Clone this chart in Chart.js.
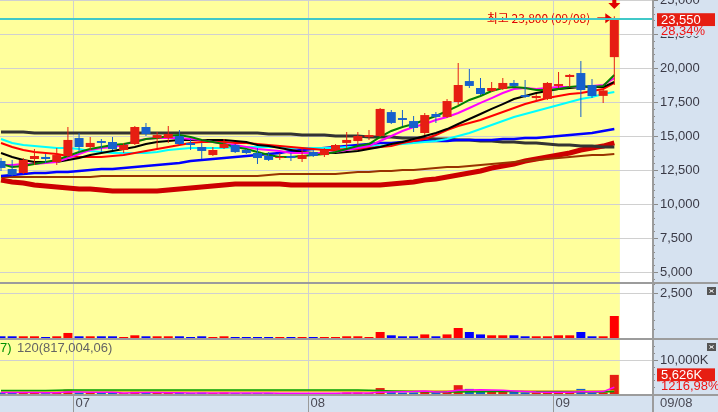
<!DOCTYPE html>
<html lang="ko">
<head>
<meta charset="utf-8">
<title>일봉 차트</title>
<script src="https://cdn.jsdelivr.net/npm/chart.js@4.4.1/dist/chart.umd.min.js"></script>
<style>
  html, body { margin: 0; padding: 0; background: #d6e2f0; }
  #wrap { position: relative; width: 718px; height: 412px; overflow: hidden; }
  #wrap canvas { position: absolute; left: 0; }
</style>
</head>
<body>
<div id="wrap">
  <canvas id="priceChart" width="718" height="284" style="top:0px"></canvas>
  <canvas id="valueChart" width="718" height="56" style="top:284px"></canvas>
  <canvas id="volumeChart" width="718" height="72" style="top:340px"></canvas>
</div>
<script>
// ---- data ----
const dates = ['06/22','06/23','06/26','06/27','06/28','06/29','06/30',
  '07/03','07/04','07/05','07/06','07/07','07/10','07/11','07/12','07/13','07/14','07/17','07/18','07/19','07/20','07/21','07/24','07/25','07/26','07/27','07/28','07/31',
  '08/01','08/02','08/03','08/04','08/07','08/08','08/09','08/10','08/11','08/14','08/16','08/17','08/18','08/21','08/22','08/23','08/24','08/25','08/28','08/29','08/30','08/31',
  '09/01','09/04','09/05','09/06','09/07','09/08'];

const opens = [13160,12570,12280,13310,13460,13090,13530,
  14850,14190,14630,14560,13970,14410,15660,14850,14850,15000,14490,14190,13600,14120,14340,13970,13750,13530,13380,13530,13310,
  13820,13600,13970,14490,14630,14930,15000,16760,16320,16100,15220,16620,16400,17500,19040,18530,18310,18460,18900,18010,17790,17720,
  18680,19340,19630,18750,17950,20800];
const highs = [13380,13240,13380,14040,13680,14120,15660,
  15220,14930,14780,14930,14490,15740,15960,15290,15740,15440,14780,14490,14190,14780,14410,14040,14120,13820,13750,13750,14040,
  13970,14120,14410,15290,15290,15440,17060,16910,16910,16470,16690,16760,17720,20370,19930,19260,18970,19260,19120,19120,18090,18970,
  19710,19560,20520,19190,18450,23800];
const lows = [12430,12060,12210,12870,13010,12870,13460,
  13820,13970,13820,13970,13750,14340,15000,14120,14490,14340,13970,13310,13530,14040,13750,13680,12940,13160,13240,13160,13090,
  13460,13460,13900,14120,14340,14710,14930,15880,15740,15290,15070,15960,16320,17280,18530,18010,18240,18380,18600,17790,17570,17650,
  18530,18600,16400,17790,17430,18750];
const closes = [12650,12130,13240,13530,13310,13600,14710,
  14190,14490,14490,14040,14340,15660,15150,15070,15150,14410,14340,13900,13970,14410,13820,13750,13380,13240,13460,13380,13600,
  13530,13970,14340,14710,15000,15070,16990,15960,16180,15590,16540,16400,17570,18750,18680,18090,18530,18900,18680,17870,17940,18900,
  18820,19490,18380,17940,18350,23550];

// moving-average lines of the price panel
const maGreen = [12940,12720,12790,12940,13090,13240,13530,13820,14040,14190,
  14340,14410,14560,14780,14850,15000,15070,14930,14710,14560,
  14410,14190,14040,13820,13600,13460,13460,13530,13600,13680,
  13820,14040,14260,14410,14930,15370,15660,15880,16180,16470,
  16840,17210,17650,17940,18310,18530,18600,18530,18380,18380,
  18460,18600,18680,18600,18680,19490];
const maMagenta = [12870,12870,12940,12940,13010,13090,13380,13680,13970,14120,
  14190,14340,14630,14780,14850,14850,14850,14780,14710,14560,
  14410,14340,14190,14040,13970,13900,13750,13750,13750,13750,
  13820,13970,14120,14260,14630,15000,15370,15660,15880,16180,
  16400,16690,17060,17430,17790,18160,18460,18530,18460,18530,
  18600,18600,18600,18680,18750,19260];
const maBlack = [13750,13460,13240,13090,13090,13090,13240,13380,13600,13750,
  13900,14040,14190,14410,14560,14630,14710,14710,14710,14710,
  14710,14630,14560,14340,14260,14120,13970,13820,13750,13750,
  13750,13820,13900,14040,14190,14410,14560,14780,15000,15220,
  15510,15880,16250,16620,16990,17350,17720,17940,18160,18310,
  18460,18530,18600,18600,18600,18970];
const maRed = [14490,14190,13970,13820,13750,13680,13530,13460,13460,13460,
  13530,13600,13750,13900,14040,14190,14340,14490,14560,14560,
  14560,14490,14490,14410,14340,14260,14190,14120,14040,13970,
  13970,14040,14040,14120,14190,14260,14490,14630,14780,15070,
  15440,15740,15960,16180,16470,16760,17060,17350,17570,17790,
  17940,18090,18160,18310,18460,18900];
const maCyan = [14780,14490,14340,14260,14190,14120,14120,14040,13900,13820,
  13750,13750,13750,13750,13820,13970,14040,14120,14120,14120,
  14120,14190,14190,14190,14190,14190,14120,14120,14120,14120,
  14120,14190,14190,14260,14260,14340,14410,14490,14560,14630,
  14780,15000,15220,15510,15810,16100,16400,16620,16840,17060,
  17280,17500,17720,17870,18090,18240];
const maBlue = [12060,12130,12210,12280,12280,12350,12350,12430,12500,12570,
  12570,12650,12720,12790,12870,12940,13010,13160,13240,13310,
  13380,13460,13530,13600,13680,13750,13900,13970,14040,14120,
  14190,14260,14340,14410,14490,14490,14560,14560,14630,14630,
  14630,14710,14710,14710,14710,14780,14780,14850,14850,14930,
  15000,15070,15150,15220,15370,15510];
const maGray = [15290,15290,15290,15220,15220,15220,15220,15220,15220,15220,
  15220,15220,15220,15220,15220,15220,15220,15220,15220,15220,
  15220,15220,15220,15220,15150,15150,15150,15070,15070,15070,
  15000,15000,15000,14930,14930,14930,14850,14850,14850,14780,
  14780,14710,14710,14630,14630,14560,14560,14490,14490,14410,
  14340,14340,14260,14260,14190,14190];
const maBrown = [11990,11990,11990,11990,11990,11990,11990,11990,11990,12060,
  12060,12060,12060,12060,12060,12060,12060,12060,12060,12060,
  12060,12060,12060,12060,12130,12210,12210,12210,12210,12210,
  12210,12280,12350,12350,12430,12430,12500,12500,12570,12650,
  12720,12720,12790,12870,12940,13010,13090,13160,13240,13310,
  13380,13460,13530,13600,13600,13680];
const maThick = [11760,11620,11540,11400,11320,11250,11180,11100,11100,11030,
  10960,10960,10960,10960,10960,11030,11100,11180,11250,11320,
  11400,11470,11470,11470,11470,11470,11400,11400,11400,11400,
  11400,11400,11400,11400,11400,11470,11540,11620,11760,11840,
  11990,12130,12280,12430,12650,12790,12940,13160,13310,13460,
  13600,13750,13970,14120,14260,14490];

// second panel (trading value) and third panel (volume, K)
const tradeValue = [95,95,95,95,55,95,280,95,95,95,
  95,55,150,95,95,95,95,55,95,55,
  95,55,55,55,55,55,55,55,55,55,
  55,95,95,55,333,150,95,95,200,95,
  200,555,333,200,150,150,150,95,95,95,
  150,150,333,95,95,1222];
const volumeK = [430,420,420,430,260,430,1250,430,420,410,
  420,260,680,430,420,420,410,260,420,270,
  430,260,250,250,260,250,250,250,250,260,
  260,420,430,260,1750,680,430,430,900,420,
  900,2600,1500,900,680,680,680,430,430,430,
  680,680,1500,430,462,5626];
const volMaShort = [420,410,410,410,380,380,560,560,540,520,
  500,300,380,420,410,400,390,330,320,310,
  300,290,280,270,260,250,250,250,250,250,
  250,280,300,300,550,600,650,700,850,600,
  650,1100,1200,1250,1150,1100,880,720,560,500,
  480,520,650,650,700,2000];
const volMaMid = [1000,1000,1000,1000,1000,1100,1180,1180,1180,1180,
  1180,1180,1180,1180,1180,1180,1180,1180,1180,1180,
  1180,1170,1160,1150,1150,1150,1150,1150,1150,1150,
  1150,1150,1150,1100,1000,900,800,700,650,600,
  600,620,650,680,700,720,700,690,680,660,
  640,620,600,600,600,700];
const volMaLong = [900,900,900,900,900,900,890,890,890,890,
  880,880,880,880,880,880,880,880,880,880,
  880,880,880,880,880,880,880,880,880,880,
  880,880,880,880,880,880,880,880,880,880,
  880,880,880,880,880,880,880,880,880,880,
  880,880,880,880,880,880];

const priceTicks = [5000, 7500, 10000, 12500, 15000, 17500, 20000, 22500, 25000];
const valueTicks = [2500];
const volumeTicks = [10000];
const priceChangeText = '28,34%';
const volumeChangeText = '1216,98%';
const volumeLegend = { prev: '7)', text: '120(817,004,06)' };

// ---- look ----
const X_MIN = -0.09, X_MAX = 58.38;
const AXIS_W = 66;
const PANEL_BG = '#d6e2f0';
const PLOT_BG = '#ffff9c';
const GRID = '#d0d0d0';
const SEP = '#9c9c9c';
const AXIS_TEXT = '#3a3a46';
const AXIS_FONT = '13px "Liberation Sans Narrow", "Liberation Sans", Arial, sans-serif';
const UP = '#e61e12';
const DOWN = '#1660cc';

const monthBreaks = [];
dates.forEach((d, i) => {
  if (i > 0 && d.slice(0, 2) !== dates[i - 1].slice(0, 2)) {
    monthBreaks.push({ pos: i - 0.5, label: d.slice(0, 2) });
  }
});

const fmt = v => Math.round(v).toLocaleString('en-US');
const isUp = i => closes[i] >= opens[i];
const pts = arr => arr.map((v, i) => ({ x: i, y: v }));

function baseOptions(yMin, yMax, padBottom) {
  return {
    responsive: false,
    animation: false,
    devicePixelRatio: 1,
    events: [],
    layout: { padding: { left: 0, top: 0, right: AXIS_W, bottom: padBottom } },
    plugins: { legend: { display: false }, tooltip: { enabled: false } },
    scales: {
      x: { type: 'linear', min: X_MIN, max: X_MAX, offset: false, display: false },
      y: { type: 'linear', min: yMin, max: yMax, display: false }
    }
  };
}

function drawPlotBg(chart, gridValues) {
  const { ctx, chartArea: a, scales: { x, y } } = chart;
  const xEnd = x.getPixelForValue(dates.length - 0.5);
  ctx.save();
  ctx.fillStyle = PLOT_BG;
  ctx.fillRect(a.left, a.top, xEnd - a.left, a.bottom - a.top);
  ctx.fillStyle = '#ffffff';
  ctx.fillRect(xEnd, a.top, a.right - xEnd, a.bottom - a.top);
  ctx.strokeStyle = GRID;
  ctx.lineWidth = 1;
  ctx.beginPath();
  gridValues.forEach(v => {
    const py = Math.round(y.getPixelForValue(v)) + 0.5;
    ctx.moveTo(a.left, py);
    ctx.lineTo(a.right, py);
  });
  monthBreaks.forEach(m => {
    const px = Math.round(x.getPixelForValue(m.pos)) + 0.5;
    ctx.moveTo(px, a.top);
    ctx.lineTo(px, a.bottom);
  });
  ctx.stroke();
  ctx.restore();
}

function drawRightAxis(chart, majors, minorStep, label) {
  const { ctx, chartArea: a, scales: { y } } = chart;
  ctx.save();
  ctx.strokeStyle = '#8a8a8a';
  ctx.lineWidth = 1;
  ctx.beginPath();
  for (let v = Math.floor(y.min / minorStep) * minorStep + minorStep; v <= y.max; v += minorStep) {
    const py = Math.round(y.getPixelForValue(v)) + 0.5;
    ctx.moveTo(a.right, py);
    ctx.lineTo(a.right + (majors.includes(v) ? 6 : 3), py);
  }
  ctx.stroke();
  ctx.font = AXIS_FONT;
  ctx.fillStyle = AXIS_TEXT;
  ctx.textAlign = 'left';
  ctx.textBaseline = 'middle';
  majors.forEach(v => ctx.fillText(label(v), a.right + 8, y.getPixelForValue(v)));
  ctx.fillStyle = SEP;
  ctx.fillRect(a.right, 0, 2, chart.height);
  ctx.restore();
}

function drawValueBox(chart, value, text, sub) {
  const { ctx, chartArea: a, scales: { y } } = chart;
  const py = y.getPixelForValue(value);
  ctx.save();
  ctx.fillStyle = UP;
  ctx.fillRect(a.right + 5, py - 6.5, 58, 13);
  ctx.font = AXIS_FONT;
  ctx.textBaseline = 'middle';
  ctx.textAlign = 'left';
  ctx.fillStyle = '#ffffff';
  ctx.fillText(text, a.right + 9, py + 0.5);
  ctx.fillStyle = PANEL_BG;
  ctx.fillRect(a.right + 8, py + 6.5, chart.width - a.right - 8, 10);
  ctx.fillStyle = '#f01414';
  ctx.fillText(sub, a.right + 9, py + 12);
  ctx.restore();
}

function drawCloseIcon(ctx, x0, y0) {
  ctx.save();
  ctx.fillStyle = '#555555';
  ctx.fillRect(x0, y0, 9, 8);
  ctx.strokeStyle = '#ffffff';
  ctx.lineWidth = 1;
  ctx.beginPath();
  ctx.moveTo(x0 + 2.5, y0 + 2.5); ctx.lineTo(x0 + 6.5, y0 + 5.5);
  ctx.moveTo(x0 + 6.5, y0 + 2.5); ctx.lineTo(x0 + 2.5, y0 + 5.5);
  ctx.stroke();
  ctx.restore();
}

function drawSeparator(chart) {
  chart.ctx.save();
  chart.ctx.fillStyle = SEP;
  chart.ctx.fillRect(0, chart.chartArea.bottom, chart.width, 2);
  chart.ctx.restore();
}

// ---- price panel ----
const pricePlugin = {
  id: 'pricePanel',
  beforeDatasetsDraw(chart) {
    drawPlotBg(chart, priceTicks);
  },
  afterDatasetsDraw(chart) {
    const { ctx, chartArea: a, scales: { x, y } } = chart;
    const last = closes.length - 1;
    const peakIdx = highs.indexOf(Math.max(...highs));
    const px = x.getPixelForValue(peakIdx);
    const py = y.getPixelForValue(highs[peakIdx]);
    ctx.save();
    ctx.font = '12px "Noto Sans CJK KR", sans-serif';
    ctx.fillStyle = '#e00000';
    ctx.textAlign = 'right';
    ctx.textBaseline = 'middle';
    ctx.fillText('최고 ' + fmt(highs[peakIdx]) + ' (' + dates[peakIdx] + ')', px - 24, py + 2);
    // arrow pointing at the high
    ctx.strokeStyle = '#e00000';
    ctx.fillStyle = '#e00000';
    ctx.lineWidth = 2;
    ctx.beginPath();
    ctx.moveTo(px - 17, py + 2);
    ctx.lineTo(px - 8, py + 2);
    ctx.stroke();
    ctx.beginPath();
    ctx.moveTo(px - 9, py - 3);
    ctx.lineTo(px - 2, py + 2);
    ctx.lineTo(px - 9, py + 7);
    ctx.closePath();
    ctx.fill();
    // signal marker above the last candle
    const lx = x.getPixelForValue(last);
    ctx.fillRect(lx - 2, 0, 4, 3);
    ctx.beginPath();
    ctx.moveTo(lx - 6, 3);
    ctx.lineTo(lx + 6, 3);
    ctx.lineTo(lx, 9);
    ctx.closePath();
    ctx.fill();
    // current price line
    const cy = y.getPixelForValue(closes[last]);
    ctx.fillStyle = '#40c8c8';
    ctx.fillRect(a.left, Math.round(cy) - 2, a.right - a.left, 2);
    ctx.restore();
  },
  afterDraw(chart) {
    drawRightAxis(chart, priceTicks, 500, fmt);
    const last = closes.length - 1;
    drawValueBox(chart, closes[last], fmt(closes[last]), priceChangeText);
    drawSeparator(chart);
  }
};

const priceLines = [
  { data: maThick, color: '#cc0000', width: 5 },
  { data: maBrown, color: '#993300', width: 2 },
  { data: maGray, color: '#333333', width: 3 },
  { data: maBlue, color: '#0000ff', width: 2.5 },
  { data: maCyan, color: '#00ffff', width: 2 },
  { data: maRed, color: '#ff0000', width: 2 },
  { data: maBlack, color: '#000000', width: 2 },
  { data: maMagenta, color: '#ff00ff', width: 2 },
  { data: maGreen, color: '#008000', width: 2 }
];

const candleColor = c => isUp(c.dataIndex) ? UP : DOWN;

new Chart(document.getElementById('priceChart'), {
  type: 'bar',
  data: {
    datasets: [
      ...priceLines.map((s, k) => ({
        type: 'line', data: pts(s.data), borderColor: s.color, borderWidth: s.width,
        pointRadius: 0, tension: 0, order: 20 - k
      })),
      {
        type: 'bar', data: dates.map((d, i) => ({ x: i, y: [lows[i], highs[i]] })),
        backgroundColor: candleColor, barThickness: 1, grouped: false, inflateAmount: 0, order: 1
      },
      {
        type: 'bar', data: dates.map((d, i) => ({ x: i, y: [opens[i], closes[i]] })),
        backgroundColor: candleColor, barThickness: 9, minBarLength: 1, grouped: false, inflateAmount: 0, order: 0
      }
    ]
  },
  options: baseOptions(4265, 25000, 2),
  plugins: [pricePlugin]
});

// ---- trading value panel ----
new Chart(document.getElementById('valueChart'), {
  type: 'bar',
  data: {
    datasets: [{
      data: tradeValue.map((v, i) => ({ x: i, y: v })),
      backgroundColor: c => isUp(c.dataIndex) ? '#ff0000' : '#0000ff',
      barThickness: 9, grouped: false, inflateAmount: 0
    }]
  },
  options: baseOptions(0, 3000, 2),
  plugins: [{
    id: 'valuePanel',
    beforeDatasetsDraw(chart) { drawPlotBg(chart, valueTicks); },
    afterDraw(chart) {
      drawRightAxis(chart, valueTicks, 500, fmt);
      drawCloseIcon(chart.ctx, 707, 3);
      drawSeparator(chart);
    }
  }]
});

// ---- volume panel + date axis ----
const volumeLines = [
  { data: volMaLong, color: '#d8a010' },
  { data: volMaMid, color: '#00a000' },
  { data: volMaShort, color: '#ff00ff' }
];

new Chart(document.getElementById('volumeChart'), {
  type: 'bar',
  data: {
    datasets: [
      ...volumeLines.map((s, k) => ({
        type: 'line', data: pts(s.data), borderColor: s.color, borderWidth: 1.5,
        pointRadius: 0, tension: 0, order: 3 - k
      })),
      {
        type: 'bar', data: volumeK.map((v, i) => ({ x: i, y: v })),
        backgroundColor: candleColor, barThickness: 9, grouped: false, inflateAmount: 0, order: 10
      }
    ]
  },
  options: baseOptions(0, 15882, 18),
  plugins: [{
    id: 'volumePanel',
    beforeDatasetsDraw(chart) { drawPlotBg(chart, volumeTicks); },
    afterDraw(chart) {
      const { ctx, chartArea: a, scales: { x } } = chart;
      drawRightAxis(chart, volumeTicks, 2000, v => fmt(v) + 'K');
      const last = volumeK.length - 1;
      drawValueBox(chart, volumeK[last], fmt(volumeK[last]) + 'K', volumeChangeText);
      drawCloseIcon(ctx, 707, 3);
      ctx.save();
      ctx.font = AXIS_FONT;
      ctx.textAlign = 'left';
      ctx.textBaseline = 'middle';
      ctx.fillStyle = '#009000';
      ctx.fillText(volumeLegend.prev, 0, 8);
      ctx.fillStyle = '#646464';
      ctx.fillText(volumeLegend.text, 17, 8);
      ctx.restore();
      drawSeparator(chart);
      // date axis band
      const bandTop = a.bottom + 2;
      const bandMid = bandTop + 7.5;
      ctx.save();
      ctx.strokeStyle = '#9a9a9a';
      ctx.lineWidth = 1;
      ctx.font = AXIS_FONT;
      ctx.fillStyle = '#4a4a55';
      ctx.textBaseline = 'middle';
      ctx.textAlign = 'left';
      monthBreaks.forEach(m => {
        const px = Math.round(x.getPixelForValue(m.pos)) + 0.5;
        ctx.beginPath();
        ctx.moveTo(px, bandTop);
        ctx.lineTo(px, chart.height);
        ctx.stroke();
        ctx.fillText(m.label, px + 2, bandMid);
      });
      ctx.fillText(dates[dates.length - 1], a.right + 8, bandMid);
      ctx.restore();
    }
  }]
});
</script>
</body>
</html>
